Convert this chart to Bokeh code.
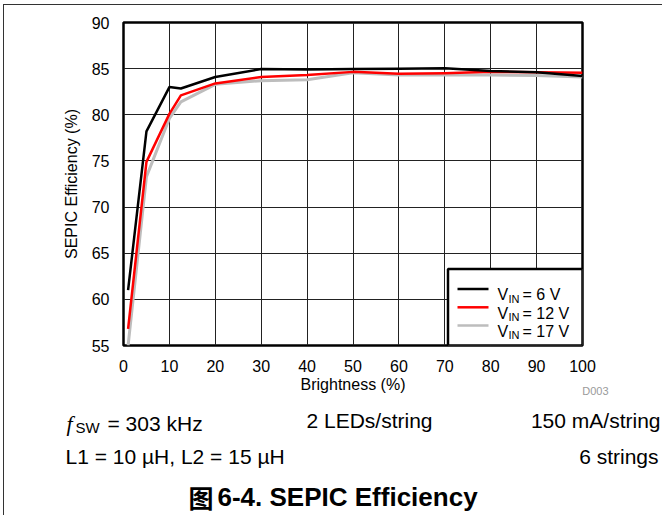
from bokeh.plotting import figure
from bokeh.layouts import column
from bokeh.models import Range1d, FixedTicker, Label, BoxAnnotation
from bokeh.embed import file_html
from bokeh.resources import INLINE

# ---------------- data ----------------
brightness = [1, 5, 10, 12.5, 20, 30, 40, 50, 60, 70, 80, 90, 100]
eff_vin6 = [61.0, 78.2, 83.0, 82.85, 84.1, 84.95, 84.9, 84.95, 85.0, 85.05, 84.75, 84.6, 84.2]
eff_vin12 = [56.8, 74.9, 80.1, 82.1, 83.4, 84.1, 84.3, 84.65, 84.45, 84.5, 84.65, 84.6, 84.55]
eff_vin17 = [55.0, 73.3, 79.6, 81.4, 83.3, 83.7, 83.8, 84.55, 84.3, 84.3, 84.3, 84.25, 84.1]
series_names = ["6 V", "12 V", "17 V"]
series_colors = ["#000000", "#ff0000", "#bdbdbd"]
x_ticks = [0, 10, 20, 30, 40, 50, 60, 70, 80, 90, 100]
y_ticks = [55, 60, 65, 70, 75, 80, 85, 90]

# ---------------- layout constants (page px) ----------------
OX, OY = 4, 5                      # page offset of the figures (margin + border)
FL, FR, FT, FB = 123, 582, 22, 345  # plot frame on the page
X0, X1, Y0, Y1 = 0, 100, 55, 90
W = 658
H1_BOTTOM = 401                    # page y where the chart canvas ends
OVERLAP = 20                       # css pull-up of the notes canvas
Q_TOP = 389                        # observed page y of the notes canvas
H2 = 134
FONT = "Liberation Sans"


def dx(px):
    return X0 + (px - FL) / (FR - FL) * (X1 - X0)


def dy(py):
    return Y1 - (py - FT) / (FB - FT) * (Y1 - Y0)


p = figure(
    frame_width=FR - FL, frame_height=FB - FT,
    min_border_left=FL - OX, min_border_top=FT - OY,
    min_border_right=W - (FR - OX), min_border_bottom=H1_BOTTOM - FB,
    x_range=Range1d(X0, X1), y_range=Range1d(Y0, Y1),
    output_backend="svg", toolbar_location=None,
)
p.background_fill_color = "white"
p.border_fill_color = "white"
p.outline_line_color = "black"
p.outline_line_width = 2.5

for ax in (p.xaxis[0], p.yaxis[0]):
    ax.axis_line_color = None
    ax.major_tick_line_color = None
    ax.minor_tick_line_color = None
    ax.major_label_text_font = FONT
    ax.major_label_text_font_size = "16px"
    ax.major_label_text_color = "black"
    ax.axis_label_text_font = FONT
    ax.axis_label_text_font_size = "16px"
    ax.axis_label_text_font_style = "normal"
    ax.axis_label_text_color = "black"

p.xaxis[0].ticker = FixedTicker(ticks=x_ticks)
p.yaxis[0].ticker = FixedTicker(ticks=y_ticks)
p.xaxis[0].axis_label = "Brightness (%)"
p.yaxis[0].axis_label = "SEPIC Efficiency (%)"
p.xaxis[0].major_label_standoff = 8
p.xaxis[0].axis_label_standoff = 1
p.yaxis[0].major_label_standoff = 8
p.yaxis[0].axis_label_standoff = 9

p.xgrid[0].ticker = FixedTicker(ticks=x_ticks)
p.ygrid[0].ticker = FixedTicker(ticks=y_ticks)
for g in (p.xgrid[0], p.ygrid[0]):
    g.grid_line_color = "#222222"
    g.grid_line_width = 1
    g.grid_line_alpha = 1

# data lines (gray under red under black)
series = [eff_vin6, eff_vin12, eff_vin17]
widths = [2.5, 2.5, 3]
for idx in (2, 1, 0):
    p.line(brightness, series[idx], line_color=series_colors[idx],
           line_width=widths[idx], line_join="round")

# ---------------- legend (manual, for the subscript) ----------------
legend_box = BoxAnnotation(left=dx(447.5), right=X1, bottom=Y0, top=dy(268.5),
                           fill_color="white", fill_alpha=1,
                           line_color="black", line_width=2.5, line_alpha=1)
p.add_layout(legend_box)
row_y = [288.5, 306.8, 325.0]
p.segment(x0=[dx(457)] * 3, x1=[dx(488)] * 3, y0=[dy(r) for r in row_y],
          y1=[dy(r) for r in row_y], line_color=series_colors, line_width=2.5,
          level="overlay")
for name, r in zip(series_names, row_y):
    p.add_layout(Label(x=dx(497), y=dy(r + 5.8), text="V", text_font=FONT,
                       text_font_size="16px", text_baseline="alphabetic",
                       text_align="left", text_color="black"))
    p.add_layout(Label(x=dx(508), y=dy(r + 9.5), text="IN", text_font=FONT,
                       text_font_size="11px", text_baseline="alphabetic",
                       text_align="left", text_color="black"))
    p.add_layout(Label(x=dx(522), y=dy(r + 5.8), text="= " + name, text_font=FONT,
                       text_font_size="16px", text_baseline="alphabetic",
                       text_align="left", text_color="black"))

# ---------------- notes below the chart (second canvas, page-pixel coords) ----------------
q = figure(width=W, height=H2, min_border=0,
           min_border_left=0, min_border_right=0, min_border_top=0, min_border_bottom=0,
           x_range=Range1d(OX, OX + W), y_range=Range1d(Q_TOP + H2, Q_TOP),
           x_axis_type=None, y_axis_type=None,
           output_backend="svg", toolbar_location=None)
q.outline_line_color = None
q.background_fill_alpha = 0
q.border_fill_alpha = 0
q.xgrid.visible = False
q.ygrid.visible = False
q.styles = {"margin-top": "-%dpx" % OVERLAP}

for fig in (p, q):
    if "frame_align" in fig.properties():
        fig.frame_align = False


def put(px, py, text, size, align="left", font=FONT, style="normal", color="black"):
    q.add_layout(Label(x=px, y=py, text=text, text_font=font,
                       text_font_size=size, text_font_style=style,
                       text_align=align, text_baseline="alphabetic",
                       text_color=color))


put(608, 398, "D003", "11px", align="right", color="#9a9a9a")
put(66, 431, "f", "22px", font="Liberation Serif", style="italic")
put(75, 435, "SW", "15px")
put(107, 431, "= 303 kHz", "21px")
put(306, 428, "2 LEDs/string", "21px")
put(660, 428, "150 mA/string", "21px", align="right")
put(65, 464, "L1 = 10 µH, L2 = 15 µH", "21px")
put(658, 464, "6 strings", "21px", align="right")
put(188, 504, "图", "25px", font="Noto Sans CJK SC", style="bold")
put(217, 504, "6-4. SEPIC Efficiency", "26px", style="bold")

page = column(p, q, spacing=0)
page.styles = {"margin-left": "3px", "margin-top": "4px",
               "border-left": "1px solid #333333", "border-top": "1px solid #333333"}

open("out.html", "w").write(file_html(page, INLINE))
